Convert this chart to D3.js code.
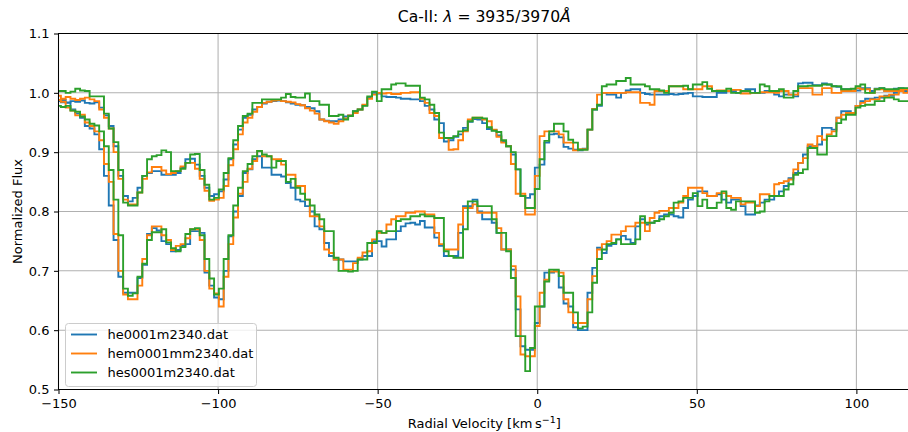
<!DOCTYPE html>
<html><head><meta charset="utf-8">
<script src="https://cdn.jsdelivr.net/npm/d3@7"></script>
<style>
html,body{margin:0;padding:0;background:#fff;}
svg text{font-family:"DejaVu Sans",sans-serif;fill:#000;}
</style></head><body>
<svg id="chart" width="908" height="432"></svg>
<script>
// Velocity grid of the resampled spectra (km/s)
const velocity = [
-151.5,-150,-148.5,-147,-145.5,-144,-142.5,-141,-139.5,-138,
-136.5,-135,-133.5,-132,-130.5,-129,-127.5,-126,-124.5,-123,
-121.5,-120,-118.5,-117,-115.5,-114,-112.5,-111,-109.5,-108,
-106.5,-105,-103.5,-102,-100.5,-99,-97.5,-96,-94.5,-93,
-91.5,-90,-88.5,-87,-85.5,-84,-82.5,-81,-79.5,-78,
-76.5,-75,-73.5,-72,-70.5,-69,-67.5,-66,-64.5,-63,
-61.5,-60,-58.5,-57,-55.5,-54,-52.5,-51,-49.5,-48,
-46.5,-45,-43.5,-42,-40.5,-39,-37.5,-36,-34.5,-33,
-31.5,-30,-28.5,-27,-25.5,-24,-22.5,-21,-19.5,-18,
-16.5,-15,-13.5,-12,-10.5,-9,-7.5,-6,-4.5,-3,
-1.5,0,1.5,3,4.5,6,7.5,9,10.5,12,
13.5,15,16.5,18,19.5,21,22.5,24,25.5,27,
28.5,30,31.5,33,34.5,36,37.5,39,40.5,42,
43.5,45,46.5,48,49.5,51,52.5,54,55.5,57,
58.5,60,61.5,63,64.5,66,67.5,69,70.5,72,
73.5,75,76.5,78,79.5,81,82.5,84,85.5,87,
88.5,90,91.5,93,94.5,96,97.5,99,100.5,102,
103.5,105,106.5,108,109.5,111,112.5,114,115.5,117];

// Ca II 3970 profile (upper set of curves)
const heK = [
0.985,0.986,0.988,0.984,0.986,0.985,0.987,0.983,0.982,0.984,
0.975,0.962,0.944,0.91,0.86,0.826,0.817,0.823,0.84,0.86,
0.865,0.868,0.868,0.862,0.862,0.862,0.865,0.874,0.888,0.889,
0.879,0.86,0.84,0.826,0.829,0.834,0.854,0.888,0.913,0.938,
0.958,0.963,0.972,0.976,0.982,0.985,0.986,0.987,0.986,0.984,
0.982,0.98,0.979,0.976,0.974,0.969,0.955,0.953,0.952,0.952,
0.955,0.96,0.962,0.969,0.972,0.979,0.992,1.0,0.999,0.994,
0.993,0.993,0.992,0.99,0.99,0.989,0.989,0.986,0.978,0.972,
0.955,0.949,0.918,0.92,0.926,0.93,0.941,0.951,0.956,0.955,
0.949,0.939,0.937,0.928,0.918,0.91,0.896,0.871,0.826,0.823,
0.829,0.874,0.879,0.916,0.93,0.931,0.925,0.909,0.906,0.904,
0.903,0.906,0.938,0.972,0.978,1.0,0.997,0.997,0.992,1.0,
1.004,1.006,1.006,1.0,0.998,0.997,0.997,0.997,0.997,0.998,
0.997,0.998,0.999,1.0,0.994,0.994,0.993,0.993,0.993,1.0,
1.0,1.003,1.003,1.0,1.003,1.006,1.006,1.0,1.0,1.003,
1.003,0.997,0.994,0.997,0.997,0.994,1.016,1.017,1.017,1.013,
1.013,1.016,1.014,1.011,1.01,1.006,1.006,1.004,1.004,1.008,
1.008,1.003,1.007,1.008,1.003,1.003,1.007,1.008,1.007,1.006];
const hemK = [
0.992,0.995,0.99,0.993,0.99,0.988,0.99,0.992,0.989,0.986,
0.972,0.958,0.94,0.9,0.855,0.82,0.812,0.812,0.832,0.855,
0.866,0.875,0.875,0.869,0.863,0.865,0.868,0.876,0.882,0.882,
0.872,0.855,0.835,0.818,0.82,0.823,0.843,0.878,0.905,0.93,
0.95,0.958,0.968,0.976,0.983,0.985,0.987,0.988,0.986,0.985,
0.984,0.981,0.979,0.974,0.97,0.965,0.955,0.952,0.95,0.948,
0.952,0.957,0.962,0.966,0.972,0.98,0.99,0.997,1.0,0.999,
1.0,0.998,0.998,1.0,1.0,1.001,1.001,0.99,0.983,0.966,
0.961,0.924,0.924,0.904,0.905,0.92,0.935,0.955,0.958,0.958,
0.955,0.952,0.938,0.926,0.916,0.91,0.88,0.83,0.83,0.795,
0.795,0.86,0.927,0.935,0.935,0.935,0.93,0.916,0.916,0.903,
0.905,0.905,0.938,0.973,0.997,1.0,1.0,1.0,1.0,1.0,
1.001,1.001,1.001,0.983,0.983,0.98,1.003,1.003,1.003,1.011,
1.011,1.011,1.006,1.006,1.006,1.006,1.011,1.011,1.003,1.004,
1.004,1.003,1.005,1.005,0.999,0.999,1.0,1.0,1.001,1.001,
1.001,1.0,1.003,1.003,0.997,0.997,1.008,1.008,1.008,0.997,
0.997,1.008,1.008,1.0,1.0,1.003,1.003,1.003,1.008,1.006,
1.006,1.0,1.006,1.006,1.003,1.003,1.003,1.006,1.006,1.005];
const hesK = [
1.005,1.003,1.003,1.0,1.002,1.007,1.004,1.003,0.994,0.994,
0.994,0.965,0.94,0.917,0.87,0.815,0.81,0.81,0.832,0.86,
0.888,0.893,0.895,0.903,0.9,0.868,0.868,0.872,0.882,0.896,
0.897,0.87,0.845,0.82,0.823,0.837,0.865,0.89,0.92,0.944,
0.961,0.965,0.983,0.983,0.989,0.989,0.989,0.989,0.992,0.998,
0.993,0.992,0.992,0.999,0.986,0.986,0.98,0.98,0.961,0.961,
0.963,0.955,0.961,0.969,0.972,0.978,0.994,1.002,0.986,1.006,
1.006,1.014,1.016,1.016,1.012,1.012,1.012,0.992,0.989,0.98,
0.966,0.933,0.924,0.924,0.927,0.935,0.937,0.952,0.958,0.958,
0.957,0.942,0.936,0.934,0.92,0.91,0.9,0.871,0.826,0.806,
0.806,0.838,0.888,0.919,0.935,0.948,0.948,0.935,0.921,0.916,
0.904,0.904,0.938,0.972,0.98,1.011,1.014,1.014,1.02,1.02,
1.025,1.014,1.014,1.014,1.011,1.006,1.006,1.004,1.0,1.011,
1.011,1.011,1.012,1.006,1.014,1.014,1.018,1.007,1.003,1.003,
1.003,1.007,1.0,1.0,1.003,1.003,1.0,1.0,1.014,1.011,
1.003,1.003,1.006,0.992,0.992,1.003,1.011,1.011,1.012,1.012,
1.012,1.014,1.014,1.011,1.011,1.006,1.006,1.007,1.011,1.014,
1.0,1.0,1.006,1.008,1.006,1.006,1.006,1.008,1.008,1.008];

// Ca II 3935 profile (lower set of curves)
const heH = [
0.985,0.986,0.984,0.983,0.972,0.965,0.958,0.944,0.94,0.93,
0.905,0.86,0.81,0.752,0.69,0.663,0.663,0.663,0.688,0.71,
0.762,0.772,0.768,0.75,0.745,0.733,0.735,0.742,0.745,0.767,
0.767,0.764,0.697,0.675,0.655,0.652,0.7,0.758,0.8,0.826,
0.865,0.871,0.888,0.893,0.874,0.874,0.862,0.862,0.859,0.848,
0.84,0.82,0.817,0.809,0.8,0.775,0.77,0.747,0.725,0.719,
0.719,0.716,0.716,0.716,0.719,0.725,0.725,0.75,0.75,0.741,
0.753,0.753,0.767,0.775,0.78,0.781,0.778,0.784,0.773,0.773,
0.756,0.742,0.725,0.725,0.725,0.764,0.809,0.809,0.82,0.8,
0.787,0.787,0.781,0.764,0.736,0.736,0.702,0.635,0.573,0.567,
0.567,0.612,0.64,0.697,0.697,0.7,0.672,0.645,0.64,0.605,
0.6,0.6,0.663,0.705,0.739,0.73,0.742,0.745,0.753,0.759,
0.753,0.747,0.775,0.787,0.778,0.781,0.784,0.792,0.795,0.795,
0.792,0.79,0.806,0.82,0.826,0.834,0.834,0.826,0.826,0.829,
0.82,0.815,0.82,0.82,0.809,0.795,0.795,0.81,0.815,0.82,
0.82,0.826,0.834,0.843,0.856,0.865,0.882,0.896,0.91,0.91,
0.913,0.941,0.941,0.938,0.958,0.969,0.969,0.966,0.978,0.986,
0.99,0.99,0.992,0.992,0.995,0.995,1.0,1.003,1.003,1.003];
const hemH = [
0.99,0.988,0.985,0.975,0.97,0.962,0.963,0.95,0.944,0.935,
0.92,0.88,0.85,0.762,0.7,0.66,0.652,0.652,0.675,0.72,
0.76,0.775,0.775,0.76,0.752,0.735,0.742,0.745,0.755,0.77,
0.77,0.752,0.7,0.67,0.662,0.64,0.69,0.745,0.79,0.83,
0.85,0.872,0.885,0.902,0.893,0.893,0.888,0.888,0.879,0.862,
0.862,0.843,0.843,0.82,0.792,0.792,0.775,0.736,0.73,0.719,
0.719,0.702,0.702,0.713,0.722,0.731,0.733,0.753,0.764,0.764,
0.778,0.787,0.792,0.792,0.798,0.798,0.8,0.8,0.795,0.795,
0.764,0.745,0.736,0.736,0.736,0.778,0.806,0.806,0.812,0.798,
0.798,0.798,0.798,0.772,0.736,0.736,0.708,0.657,0.559,0.556,
0.556,0.607,0.663,0.685,0.699,0.699,0.697,0.652,0.63,0.612,
0.612,0.612,0.652,0.691,0.736,0.745,0.75,0.761,0.761,0.767,
0.775,0.775,0.781,0.781,0.767,0.789,0.798,0.801,0.801,0.806,
0.806,0.815,0.826,0.84,0.84,0.84,0.831,0.826,0.826,0.831,
0.831,0.826,0.823,0.823,0.812,0.815,0.815,0.809,0.829,0.829,
0.826,0.846,0.848,0.851,0.854,0.871,0.882,0.89,0.913,0.91,
0.927,0.921,0.93,0.935,0.958,0.963,0.966,0.966,0.978,0.983,
0.986,0.989,0.989,0.994,0.994,0.997,0.997,1.003,1.0,1.003];
const hesH = [
0.98,0.978,0.976,0.978,0.97,0.968,0.96,0.955,0.948,0.945,
0.935,0.91,0.87,0.82,0.76,0.67,0.658,0.662,0.69,0.712,
0.752,0.765,0.765,0.77,0.748,0.738,0.733,0.74,0.762,0.77,
0.772,0.76,0.72,0.687,0.66,0.67,0.72,0.76,0.81,0.84,
0.868,0.88,0.893,0.902,0.896,0.893,0.874,0.885,0.885,0.85,
0.855,0.84,0.83,0.82,0.81,0.795,0.787,0.767,0.767,0.722,
0.7,0.7,0.699,0.7,0.719,0.719,0.747,0.747,0.767,0.764,
0.767,0.767,0.784,0.787,0.787,0.792,0.792,0.795,0.792,0.792,
0.789,0.789,0.733,0.725,0.722,0.722,0.77,0.817,0.817,0.809,
0.809,0.809,0.787,0.764,0.764,0.733,0.688,0.59,0.59,0.531,
0.57,0.64,0.64,0.682,0.702,0.702,0.691,0.663,0.663,0.63,
0.603,0.606,0.63,0.68,0.72,0.736,0.745,0.747,0.753,0.745,
0.745,0.745,0.753,0.792,0.781,0.781,0.784,0.787,0.792,0.798,
0.815,0.817,0.823,0.823,0.831,0.809,0.82,0.806,0.806,0.815,
0.834,0.806,0.803,0.817,0.817,0.817,0.817,0.798,0.8,0.817,
0.826,0.826,0.826,0.837,0.846,0.862,0.865,0.871,0.907,0.907,
0.896,0.896,0.927,0.927,0.949,0.955,0.963,0.963,0.975,0.978,
0.98,0.98,0.986,0.986,0.992,0.992,0.989,0.986,0.986,0.986];

const fileNames = ["he0001m2340.dat", "hem0001mm2340.dat", "hes0001m2340.dat"];
const fileColors = ["#1f77b4", "#ff7f0e", "#2ca02c"];
const xTicks = [-150, -100, -50, 0, 50, 100];
const yTicks = [0.5, 0.6, 0.7, 0.8, 0.9, 1.0, 1.1];

// each file contributes both Ca II lines, drawn in its colour
const files = [
  {name: fileNames[0], color: fileColors[0], lines: [heK, heH]},
  {name: fileNames[1], color: fileColors[1], lines: [hemK, hemH]},
  {name: fileNames[2], color: fileColors[2], lines: [hesK, hesH]}
];

const svg = d3.select("#chart");
const plot = {left: 58.5, right: 910, top: 33.5, bottom: 389.5};
const x = d3.scaleLinear().domain([-150, 116.8]).range([plot.left, plot.right]);
const y = d3.scaleLinear().domain([0.5, 1.1]).range([plot.bottom, plot.top]);
const fs = 13;

svg.append("rect").attr("width", 908).attr("height", 432).attr("fill", "#fff");

svg.append("defs").append("clipPath").attr("id", "plotclip")
  .append("rect")
  .attr("x", plot.left).attr("y", plot.top)
  .attr("width", plot.right - plot.left).attr("height", plot.bottom - plot.top);

// grid
const grid = svg.append("g").attr("stroke", "#b0b0b0").attr("stroke-width", 1.04);
grid.selectAll("line.gx").data(xTicks).join("line")
  .attr("x1", d => x(d)).attr("x2", d => x(d))
  .attr("y1", plot.top).attr("y2", plot.bottom);
grid.selectAll("line.gy").data(yTicks).join("line")
  .attr("x1", plot.left).attr("x2", plot.right)
  .attr("y1", d => y(d)).attr("y2", d => y(d));

// spectra
const stepLine = d3.line()
  .x((d, i) => x(velocity[i]))
  .y(d => y(d))
  .curve(d3.curveStep);

const traces = svg.append("g").attr("clip-path", "url(#plotclip)");
files.forEach(f => {
  f.lines.forEach(vals => {
    traces.append("path")
      .datum(vals)
      .attr("d", stepLine)
      .attr("fill", "none")
      .attr("stroke", f.color)
      .attr("stroke-width", 1.9)
      .attr("stroke-linejoin", "miter")
      .attr("stroke-linecap", "square");
  });
});

// axes
const xAxis = d3.axisBottom(x).tickValues(xTicks).tickSize(4.5).tickPadding(4.5)
  .tickFormat(d3.format("d"));
const yAxis = d3.axisLeft(y).tickValues(yTicks).tickSize(4.5).tickPadding(4.5)
  .tickFormat(d3.format(".1f"));

const gx = svg.append("g").attr("transform", `translate(0,${plot.bottom})`).call(xAxis);
const gy = svg.append("g").attr("transform", `translate(${plot.left},0)`).call(yAxis);
[gx, gy].forEach(g => {
  g.select(".domain").remove();
  g.selectAll(".tick line").attr("stroke", "#000").attr("stroke-width", 1.04);
  g.selectAll(".tick text").attr("font-size", fs).attr("fill", "#000")
    .style("font-family", "DejaVu Sans");
});

// frame: left, top and bottom spines
svg.append("path")
  .attr("d", `M${plot.right + 5},${plot.top}H${plot.left}V${plot.bottom}H${plot.right + 5}`)
  .attr("fill", "none").attr("stroke", "#000").attr("stroke-width", 1.04);

// title
const cx = (plot.left + plot.right) / 2;
const title = svg.append("text").attr("x", cx).attr("y", 22)
  .attr("text-anchor", "middle").attr("font-size", 15.6);
title.append("tspan").text("Ca-II: ");
title.append("tspan").attr("font-style", "italic").text("λ");
title.append("tspan").text(" = 3935/3970");
title.append("tspan").attr("font-style", "italic").text("Å");

// axis labels
const xl = svg.append("text").attr("x", cx).attr("y", 428)
  .attr("text-anchor", "middle").attr("font-size", fs);
xl.append("tspan").text("Radial Velocity [km\u2009s");
xl.append("tspan").attr("dy", -5).attr("font-size", 9.5).text("\u22121");
xl.append("tspan").attr("dy", 5).text("]");

svg.append("text")
  .attr("transform", `translate(22,${(plot.top + plot.bottom) / 2}) rotate(-90)`)
  .attr("text-anchor", "middle").attr("font-size", fs)
  .text("Normalized Flux");

// legend
const lg = svg.append("g");
lg.append("rect").attr("x", 65.5).attr("y", 323.5).attr("width", 191).attr("height", 63)
  .attr("rx", 3).attr("fill", "#fff").attr("fill-opacity", 0.8)
  .attr("stroke", "#cccccc").attr("stroke-width", 1);
files.forEach((f, i) => {
  const yy = 334.5 + i * 19;
  lg.append("line").attr("x1", 71).attr("x2", 97).attr("y1", yy).attr("y2", yy)
    .attr("stroke", f.color).attr("stroke-width", 1.9);
  lg.append("text").attr("x", 107.5).attr("y", yy + 4.6).attr("font-size", fs).text(f.name);
});
</script>
</body></html>
